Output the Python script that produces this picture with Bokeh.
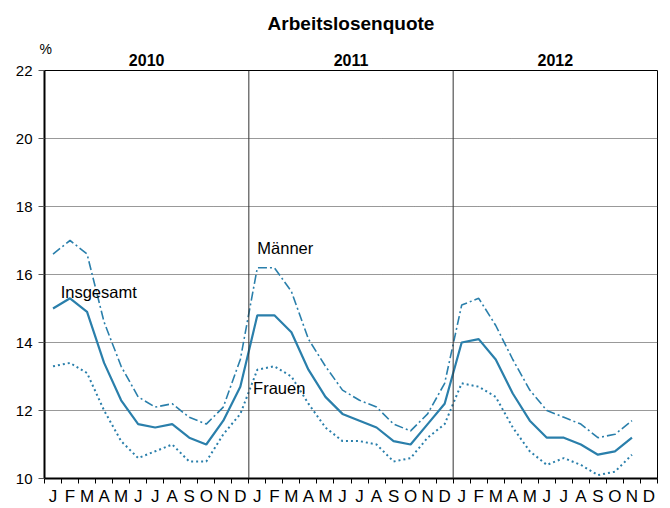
from bokeh.plotting import figure
from bokeh.models import Range1d, FixedTicker, Span, Label, ColumnDataSource, LinearAxis, Title
from bokeh.embed import file_html
from bokeh.resources import INLINE

years = ["2010", "2011", "2012"]
month_letters = ["J", "F", "M", "A", "M", "J", "J", "A", "S", "O", "N", "D"]

insgesamt = [15.0, 15.3, 14.9, 13.4, 12.3, 11.6, 11.5, 11.6, 11.2, 11.0, 11.7, 12.7,
             14.8, 14.8, 14.3, 13.2, 12.4, 11.9, 11.7, 11.5, 11.1, 11.0, 11.6, 12.2,
             14.0, 14.1, 13.5, 12.5, 11.7, 11.2, 11.2, 11.0, 10.7, 10.8, 11.2]
maenner = [16.6, 17.0, 16.6, 14.6, 13.3, 12.4, 12.1, 12.2, 11.8, 11.6, 12.1, 13.5,
           16.2, 16.2, 15.5, 14.1, 13.3, 12.6, 12.3, 12.1, 11.6, 11.4, 11.9, 12.8,
           15.1, 15.3, 14.5, 13.5, 12.6, 12.0, 11.8, 11.6, 11.2, 11.3, 11.7]
frauen = [13.3, 13.4, 13.1, 12.0, 11.1, 10.6, 10.8, 11.0, 10.5, 10.5, 11.3, 11.9,
          13.2, 13.3, 13.0, 12.2, 11.5, 11.1, 11.1, 11.0, 10.5, 10.6, 11.2, 11.6,
          12.8, 12.7, 12.4, 11.5, 10.8, 10.4, 10.6, 10.4, 10.1, 10.2, 10.7]
y_ticks = [10, 12, 14, 16, 18, 20, 22]

n_months = len(years) * 12
COLOR = "#2a7fab"
font = "Liberation Sans"

p = figure(width=670, height=508, output_backend="svg", toolbar_location=None,
           x_range=Range1d(-0.5, n_months - 0.5), y_range=Range1d(10, 22),
           min_border_left=44, min_border_right=13, min_border_top=70, min_border_bottom=30,
           title="Arbeitslosenquote")
p.background_fill_color = "white"
p.border_fill_color = "white"
p.outline_line_color = "black"
p.outline_line_width = 1

p.title.align = "center"
p.title.offset = 0
p.title.text_font = font
p.title.text_font_size = "19px"
p.title.text_font_style = "bold"
p.title.text_color = "black"
p.title.standoff = 21

# bottom month axis
bx = p.below[0]
bx.ticker = FixedTicker(ticks=list(range(n_months)),
                        minor_ticks=[i - 0.5 for i in range(n_months + 1)])
bx.major_label_overrides = {i: month_letters[i % 12] for i in range(n_months)}
bx.major_tick_out = 0
bx.major_tick_in = 0
bx.minor_tick_out = 5
bx.minor_tick_in = 0
bx.minor_tick_line_color = "black"
bx.major_label_standoff = 3
bx.major_label_text_font = font
bx.major_label_text_font_size = "17px"
bx.major_label_text_color = "black"
bx.axis_line_width = 2
bx.axis_line_color = "black"

# year labels as an axis above the frame
year_axis = LinearAxis(ticker=FixedTicker(ticks=[k * 12 + 5.5 for k in range(len(years))], minor_ticks=[]),
                       major_label_overrides={k * 12 + 5.5: yr for k, yr in enumerate(years)})
year_axis.axis_line_color = None
year_axis.major_tick_line_color = None
year_axis.minor_tick_line_color = None
year_axis.major_tick_out = 0
year_axis.major_tick_in = 0
year_axis.major_label_standoff = 5
year_axis.major_label_text_font = font
year_axis.major_label_text_font_size = "16px"
year_axis.major_label_text_font_style = "bold"
year_axis.major_label_text_color = "black"
p.add_layout(year_axis, "above")

# unit label
unit = Title(text="%", align="left", offset=-5, standoff=-12,
             text_font=font, text_font_size="14px", text_font_style="normal", text_color="black")
p.add_layout(unit, "above")

ya = p.left[0]
ya.ticker = FixedTicker(ticks=y_ticks)
ya.minor_tick_line_color = None
ya.major_tick_out = 6
ya.major_tick_in = 0
ya.major_tick_line_color = "#555555"
ya.major_label_standoff = 6
ya.major_label_text_font = font
ya.major_label_text_font_size = "15px"
ya.major_label_text_color = "black"
ya.axis_line_width = 2
ya.axis_line_color = "black"

p.xgrid.grid_line_color = None
p.ygrid.ticker = FixedTicker(ticks=y_ticks)
p.ygrid.grid_line_color = "#333333"
p.ygrid.grid_line_dash = "1 1"
p.ygrid.grid_line_width = 1

# year separators
for k in range(1, len(years)):
    p.add_layout(Span(location=k * 12 - 0.5, dimension="height", line_color="#333333", line_width=1))

x = list(range(len(insgesamt)))
src = ColumnDataSource(dict(x=x, ins=insgesamt, m=maenner, f=frauen))
p.line("x", "m", source=src, line_color=COLOR, line_width=1.6, line_dash="9 3 2 3")
p.line("x", "f", source=src, line_color=COLOR, line_width=2, line_dash="2 3")
p.line("x", "ins", source=src, line_color=COLOR, line_width=2.2)

p.add_layout(Label(x=0.45, y=15.5, text="Insgesamt", text_font=font, text_font_size="16.5px",
                   text_baseline="middle", text_align="left", text_color="black"))
p.add_layout(Label(x=12.0, y=16.78, text="Männer", text_font=font, text_font_size="16.5px",
                   text_baseline="middle", text_align="left", text_color="black"))
p.add_layout(Label(x=11.75, y=12.65, text="Frauen", text_font=font, text_font_size="16.5px",
                   text_baseline="middle", text_align="left", text_color="black"))

open("out.html", "w").write(file_html(p, INLINE))
